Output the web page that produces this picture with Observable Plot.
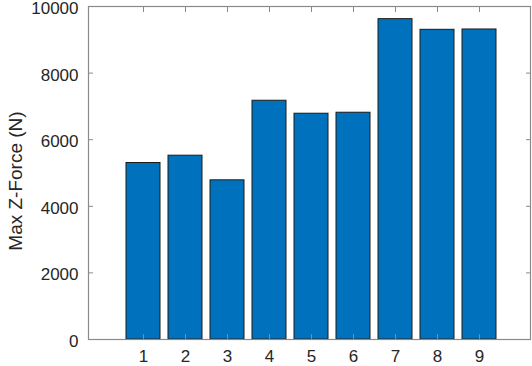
<!DOCTYPE html>
<html>
<head>
<meta charset="utf-8">
<script src="https://cdn.jsdelivr.net/npm/d3@7"></script>
<script src="https://cdn.jsdelivr.net/npm/@observablehq/plot@0.6"></script>
<style>
  html, body { margin: 0; padding: 0; background: #fff; }
  svg { display: block; }
</style>
</head>
<body>
<div id="chart"></div>
<script>
const trials = [1, 2, 3, 4, 5, 6, 7, 8, 9];
const maxZForce = [5300, 5520, 4780, 7170, 6780, 6810, 9620, 9300, 9310];
const yTicks = [0, 2000, 4000, 6000, 8000, 10000];
const yLabel = "Max Z-Force (N)";

const data = trials.map((t, i) => ({trial: t, force: maxZForce[i]}));

const axisColor = "#262626";
const frameColor = "#8a8a8a";

const chart = Plot.plot({
  width: 532,
  height: 366,
  marginLeft: 88,
  marginRight: 2,
  marginTop: 6,
  marginBottom: 27,
  style: {fontFamily: "Liberation Sans, Arial, sans-serif", fontSize: "17px", color: axisColor, background: "#fff"},
  x: {type: "band", domain: trials, paddingInner: 0.2, paddingOuter: 0.79, align: 0.52, label: null},
  y: {domain: [0, 10000], label: null},
  marks: [
    Plot.barY(data, {x: "trial", y: "force", fill: "#0072BD", stroke: "#1a1a1a", strokeWidth: 1}),
    Plot.frame({stroke: frameColor, strokeWidth: 1.2}),
    Plot.axisY(yTicks, {anchor: "left", tickSize: 0, tickPadding: 10, dy: 2, tickFormat: d => String(d), fill: axisColor, fontSize: 17, label: null}),
    Plot.axisY(yTicks, {anchor: "left", tickSize: -5, tickFormat: () => "", stroke: frameColor, label: null}),
    Plot.axisY(yTicks, {anchor: "right", tickSize: -5, tickFormat: () => "", stroke: frameColor, label: null}),
    Plot.axisX(trials, {anchor: "bottom", tickSize: -5, tickPadding: 15, stroke: frameColor, fill: axisColor, fontSize: 17, label: null}),
    Plot.axisX(trials, {anchor: "top", tickSize: -5, tickFormat: () => "", stroke: frameColor, label: null}),
    Plot.text([yLabel], {frameAnchor: "left", textAnchor: "middle", rotate: -90, dx: -73, dy: 8, fontSize: 19, fill: axisColor})
  ]
});

document.getElementById("chart").appendChild(chart);
</script>
</body>
</html>
